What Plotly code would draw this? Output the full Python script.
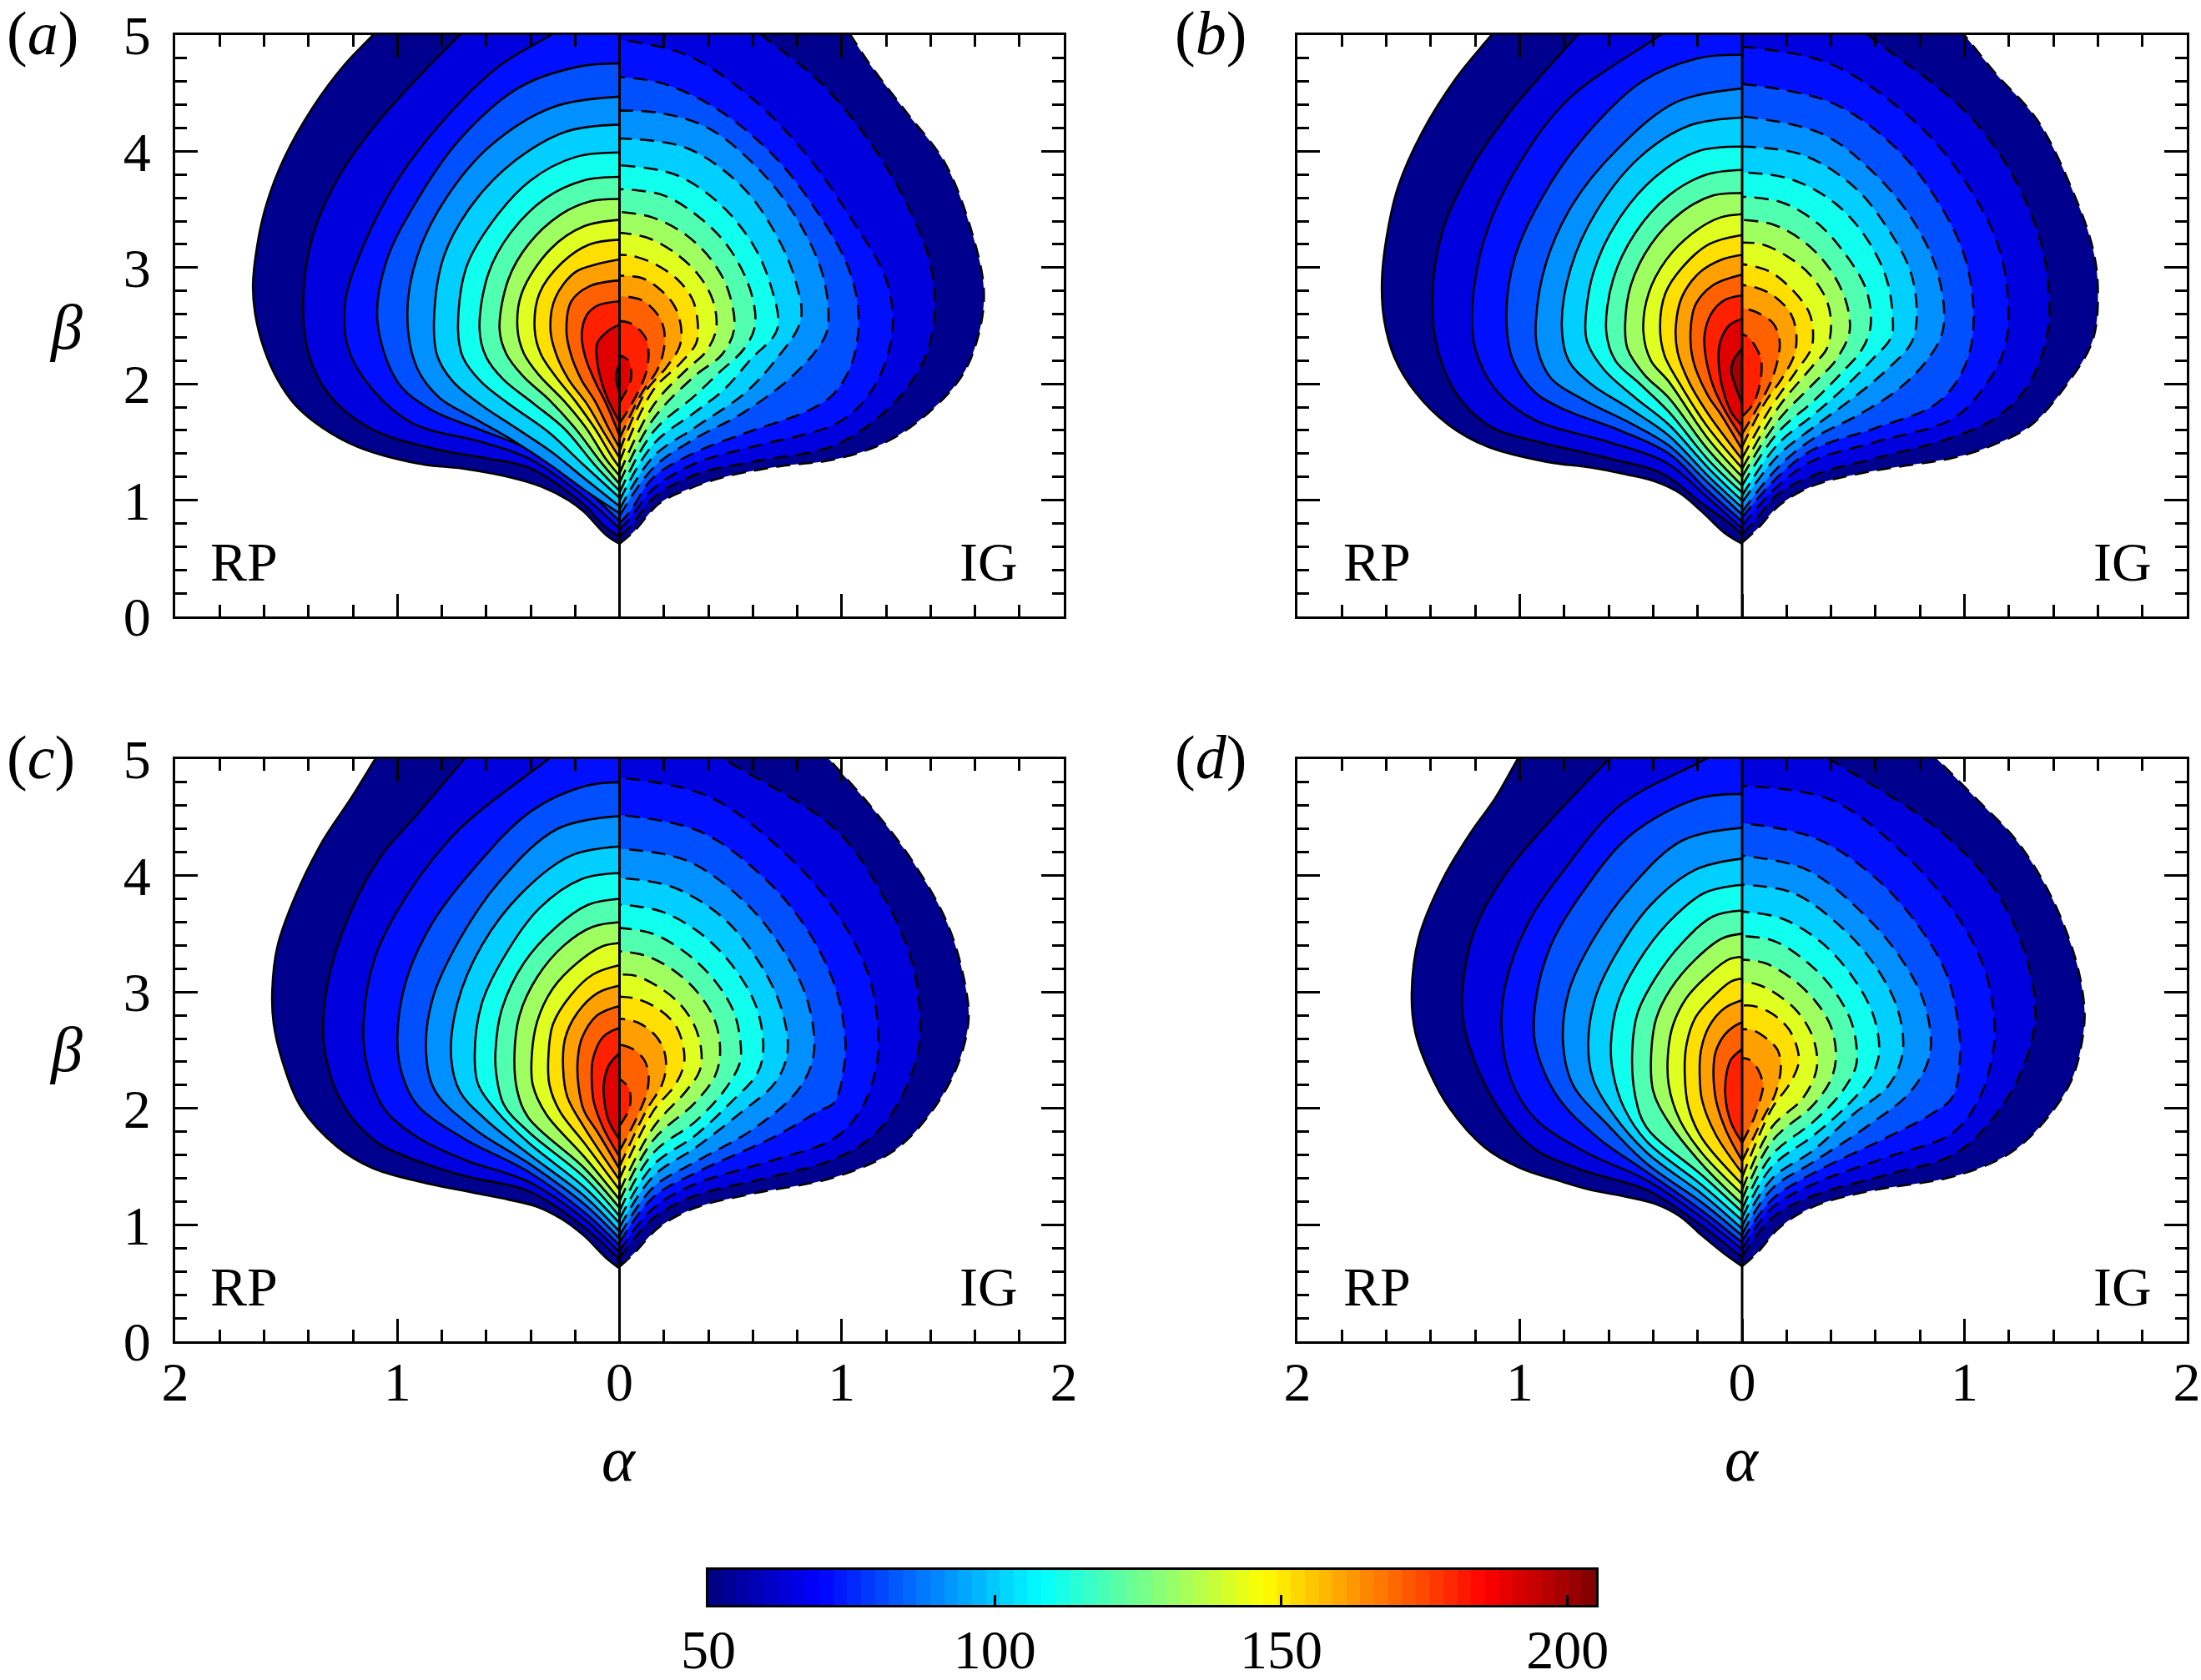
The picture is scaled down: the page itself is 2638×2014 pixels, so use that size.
#!/usr/bin/env python3
import numpy as np
import plotly.graph_objects as go

W, H = 2638, 2014

LEVELS = [50, 60, 70, 80, 90, 100, 110, 120, 130, 140, 150, 160, 170, 180, 190, 200]
BAND_COLORS = ["#00008f", "#0000df", "#0010ff", "#0050ff", "#0090ff", "#00cfff", "#10ffef", "#50ffaf",
               "#9fff60", "#dfff20", "#ffdf00", "#ff9f00", "#ff6000", "#ff2000", "#df0000", "#9f0000"]
JET_STOPS = [[0, "#00007f"], [0.125, "#0000ff"], [0.375, "#00ffff"], [0.625, "#ffff00"], [0.875, "#ff0000"], [1, "#7f0000"]]

ALPHA_TICKS = [-2, -1, 0, 1, 2]
ALPHA_LABELS = ["2", "1", "0", "1", "2"]
ALPHA_MINOR = [-1.8, -1.6, -1.4, -1.2, -0.8, -0.6, -0.4, -0.2, 0.2, 0.4, 0.6, 0.8, 1.2, 1.4, 1.6, 1.8]
BETA_TICKS = [0, 1, 2, 3, 4, 5]
BETA_MINOR = [0.2, 0.4, 0.6, 0.8, 1.2, 1.4, 1.6, 1.8, 2.2, 2.4, 2.6, 2.8, 3.2, 3.4, 3.6, 3.8, 4.2, 4.4, 4.6, 4.8]
BAR_TICKS = [50, 100, 150, 200]
BAR_MIN, BAR_MAX, BAR_STEPS = 50, 205, 64

# contours per panel, one (alpha, beta) list per entry of LEVELS, bottom of the lobe to the top
RP_A = [
 [(0,.625),(-.06,.7),(-.16,.9),(-.23,1.0),(-.35,1.115),(-.5,1.2),(-.7,1.27),(-.91,1.316),(-1.18,1.46),(-1.335,1.62),(-1.46,1.82),(-1.54,2.04),(-1.6,2.3),(-1.64,2.6),(-1.65,2.85),(-1.63,3.2),(-1.59,3.54),(-1.51,3.94),(-1.38,4.38),(-1.24,4.74),(-1.11,5)],
 [(0,.69),(-.06,.76),(-.16,.96),(-.41,1.28),(-.6,1.36),(-.83,1.44),(-1.115,1.61),(-1.305,1.9),(-1.4,2.26),(-1.424,2.74),(-1.38,3.28),(-1.27,3.76),(-1.11,4.2),(-.925,4.6),(-.72,5)],
 [(0,.755),(-.16,1.03),(-.41,1.36),(-.62,1.5),(-.93,1.66),(-1.12,1.97),(-1.22,2.3),(-1.235,2.7),(-1.15,3.2),(-1.0,3.75),(-.8,4.25),(-.55,4.72),(-.31,5)],
 [(0,.82),(-.16,1.1),(-.41,1.435),(-.62,1.6),(-.85,1.78),(-1.0,2.02),(-1.09,2.55),(-1.05,3.05),(-.92,3.55),(-.72,4.1),(-.45,4.55),(-.18,4.73),(0,4.755)],
 [(0,.887),(-.16,1.09),(-.31,1.3),(-.486,1.52),(-.66,1.71),(-.81,1.88),(-.912,2.14),(-.955,2.6),(-.91,3.1),(-.78,3.6),(-.58,4.05),(-.3,4.38),(0,4.47)],
 [(0,.947),(-.16,1.19),(-.31,1.42),(-.466,1.62),(-.624,1.82),(-.75,2.02),(-.82,2.24),(-.835,2.55),(-.79,3.1),(-.66,3.55),(-.47,3.92),(-.24,4.17),(0,4.23)],
 [(0,1.02),(-.16,1.3),(-.323,1.59),(-.5,1.83),(-.624,2.02),(-.705,2.23),(-.727,2.47),(-.69,3.0),(-.57,3.4),(-.4,3.75),(-.2,3.95),(0,3.99)],
 [(0,1.08),(-.11,1.3),(-.248,1.614),(-.386,1.83),(-.524,2.04),(-.6,2.23),(-.63,2.47),(-.59,2.95),(-.49,3.3),(-.33,3.6),(-.16,3.75),(0,3.78)],
 [(0,1.14),(-.085,1.33),(-.198,1.614),(-.31,1.85),(-.436,2.07),(-.51,2.26),(-.54,2.47),(-.5,2.9),(-.41,3.2),(-.27,3.45),(-.13,3.57),(0,3.59)],
 [(0,1.21),(-.06,1.35),(-.148,1.614),(-.248,1.85),(-.36,2.07),(-.43,2.26),(-.459,2.47),(-.44,2.78),(-.31,3.16),(-.16,3.355),(0,3.41)],
 [(0,1.28),(-.035,1.376),(-.11,1.614),(-.198,1.85),(-.29,2.07),(-.355,2.26),(-.382,2.47),(-.36,2.78),(-.26,3.04),(-.135,3.2),(0,3.24)],
 [(0,1.365),(-.073,1.59),(-.148,1.83),(-.23,2.04),(-.286,2.26),(-.311,2.47),(-.29,2.735),(-.2,2.96),(-.1,3.03),(0,3.07)],
 [(0,1.45),(-.048,1.614),(-.11,1.85),(-.173,2.04),(-.223,2.28),(-.239,2.47),(-.217,2.71),(-.135,2.84),(0,2.89)],
 [(0,1.555),(-.06,1.83),(-.11,2.02),(-.154,2.23),(-.17,2.425),(-.148,2.59),(-.098,2.675),(0,2.71)],
 [(0,1.67),(-.06,1.9),(-.098,2.16),(-.1,2.35),(-.048,2.46),(0,2.51)],
 [(0,1.92),(-.016,2.07),(0,2.17)],
]
IG_A = [
 [(0,.625),(.065,.73),(.178,.97),(.303,1.09),(.466,1.197),(.717,1.29),(.967,1.35),(1.2,1.5),(1.39,1.75),(1.545,2.08),(1.62,2.45),(1.64,2.81),(1.59,3.28),(1.465,3.9),(1.29,4.34),(1.13,4.74),(1.04,5)],
 [(0,.685),(.06,.8),(.153,1.02),(.34,1.22),(.6,1.33),(.967,1.47),(1.17,1.72),(1.3,1.98),(1.39,2.3),(1.42,2.7),(1.39,3.1),(1.28,3.6),(1.12,4.1),(.9,4.6),(.64,5)],
 [(0,.745),(.05,.85),(.153,1.1),(.34,1.316),(.6,1.46),(.967,1.65),(1.1,1.85),(1.19,2.15),(1.23,2.5),(1.2,2.9),(1.05,3.4),(.85,3.95),(.6,4.45),(.3,4.83),(0,4.96)],
 [(0,.8),(.05,.91),(.153,1.197),(.34,1.41),(.6,1.6),(.85,1.77),(.967,1.92),(1.05,2.2),(1.076,2.6),(1.03,3.0),(.9,3.45),(.7,3.95),(.45,4.35),(.2,4.58),(0,4.64)],
 [(0,.865),(.153,1.28),(.34,1.53),(.52,1.71),(.656,1.88),(.78,2.07),(.89,2.3),(.936,2.47),(.92,2.9),(.82,3.35),(.65,3.8),(.4,4.2),(.18,4.33),(0,4.35)],
 [(0,.92),(.153,1.376),(.34,1.625),(.564,1.92),(.7,2.2),(.816,2.55),(.79,2.9),(.7,3.3),(.55,3.7),(.3,4.03),(0,4.11)],
 [(0,.995),(.153,1.483),(.34,1.757),(.47,1.95),(.59,2.21),(.71,2.47),(.68,2.85),(.6,3.2),(.45,3.55),(.25,3.8),(0,3.88)],
 [(0,1.065),(.153,1.59),(.34,1.9),(.45,2.1),(.56,2.3),(.61,2.5),(.59,2.8),(.5,3.15),(.38,3.4),(.2,3.62),(0,3.675)],
 [(0,1.15),(.153,1.7),(.34,2.07),(.46,2.25),(.516,2.47),(.49,2.8),(.42,3.05),(.3,3.28),(.15,3.43),(0,3.48)],
 [(0,1.23),(.153,1.817),(.3,2.12),(.39,2.28),(.435,2.47),(.42,2.72),(.35,2.95),(.24,3.14),(.12,3.26),(0,3.3)],
 [(0,1.33),(.153,1.95),(.27,2.17),(.345,2.35),(.353,2.5),(.33,2.72),(.26,2.9),(.16,3.03),(.06,3.1),(0,3.11)],
 [(0,1.42),(.12,1.94),(.21,2.14),(.27,2.32),(.278,2.47),(.25,2.66),(.19,2.8),(.1,2.91),(0,2.93)],
 [(0,1.53),(.1,1.92),(.17,2.12),(.2,2.3),(.2,2.47),(.17,2.6),(.1,2.72),(0,2.755)],
 [(0,1.66),(.07,1.88),(.12,2.1),(.13,2.3),(.11,2.42),(.05,2.52),(0,2.54)],
 [(0,1.84),(.04,1.98),(.053,2.07),(.04,2.2),(0,2.245)],
]
RP_B = [
 [(0,.625),(-.08,.72),(-.18,.9),(-.28,1.06),(-.39,1.16),(-.517,1.22),(-.68,1.28),(-.88,1.33),(-1.144,1.46),(-1.315,1.64),(-1.47,1.93),(-1.564,2.23),(-1.61,2.55),(-1.62,2.88),(-1.6,3.25),(-1.548,3.69),(-1.44,4.16),(-1.284,4.635),(-1.128,5)],
 [(0,.7),(-.05,.79),(-.18,.97),(-.36,1.23),(-.6,1.36),(-.93,1.507),(-1.12,1.62),(-1.28,1.9),(-1.37,2.3),(-1.393,2.74),(-1.35,3.3),(-1.22,3.85),(-1.04,4.35),(-.74,5)],
 [(0,.755),(-.16,1.03),(-.34,1.32),(-.6,1.5),(-.93,1.686),(-1.1,1.93),(-1.2,2.3),(-1.212,2.7),(-1.15,3.3),(-1.0,3.9),(-.78,4.45),(-.367,5)],
 [(0,.815),(-.16,1.09),(-.33,1.4),(-.55,1.6),(-.8,1.78),(-.93,1.924),(-1.03,2.2),(-1.06,2.6),(-1.02,3.1),(-.9,3.6),(-.72,4.1),(-.45,4.6),(-.2,4.8),(0,4.83)],
 [(0,.875),(-.154,1.15),(-.33,1.47),(-.5,1.66),(-.7,1.85),(-.86,2.05),(-.92,2.3),(-.927,2.55),(-.88,3.05),(-.76,3.55),(-.57,4.0),(-.3,4.42),(0,4.54)],
 [(0,.935),(-.154,1.21),(-.33,1.555),(-.5,1.78),(-.68,2.0),(-.78,2.2),(-.811,2.5),(-.77,3.0),(-.65,3.5),(-.46,3.95),(-.24,4.22),(0,4.29)],
 [(0,.995),(-.154,1.28),(-.33,1.65),(-.48,1.88),(-.62,2.12),(-.695,2.35),(-.705,2.5),(-.67,2.95),(-.56,3.4),(-.39,3.78),(-.2,4.0),(0,4.04)],
 [(0,1.065),(-.154,1.35),(-.33,1.76),(-.46,2.0),(-.57,2.2),(-.611,2.45),(-.58,2.9),(-.48,3.3),(-.33,3.62),(-.16,3.8),(0,3.84)],
 [(0,1.125),(-.154,1.435),(-.33,1.88),(-.44,2.08),(-.515,2.3),(-.526,2.5),(-.5,2.85),(-.41,3.2),(-.27,3.48),(-.13,3.62),(0,3.64)],
 [(0,1.2),(-.154,1.53),(-.33,2.02),(-.41,2.2),(-.444,2.45),(-.42,2.78),(-.34,3.07),(-.22,3.3),(-.1,3.43),(0,3.46)],
 [(0,1.275),(-.154,1.626),(-.28,2.0),(-.35,2.25),(-.369,2.5),(-.345,2.78),(-.27,3.0),(-.15,3.2),(0,3.28)],
 [(0,1.35),(-.154,1.745),(-.24,2.02),(-.29,2.27),(-.298,2.5),(-.27,2.75),(-.19,2.96),(-.09,3.07),(0,3.11)],
 [(0,1.435),(-.1,1.75),(-.154,1.9),(-.22,2.2),(-.232,2.45),(-.21,2.68),(-.13,2.85),(0,2.94)],
 [(0,1.535),(-.08,1.78),(-.13,1.98),(-.165,2.25),(-.169,2.42),(-.14,2.6),(-.08,2.72),(0,2.76)],
 [(0,1.64),(-.05,1.76),(-.09,1.98),(-.106,2.2),(-.1,2.35),(-.06,2.5),(0,2.56)],
 [(0,1.83),(-.03,1.98),(-.048,2.1),(-.04,2.2),(0,2.305)],
]
IG_B = [
 [(0,.635),(.07,.756),(.17,.96),(.32,1.125),(.57,1.245),(.947,1.364),(1.11,1.46),(1.296,1.64),(1.45,1.97),(1.576,2.37),(1.6,2.81),(1.576,3.175),(1.48,3.69),(1.327,4.27),(1.14,4.67),(1.0,5)],
 [(0,.708),(.06,.83),(.16,1.05),(.33,1.22),(.6,1.36),(.947,1.54),(1.15,1.72),(1.29,2.0),(1.37,2.4),(1.38,2.8),(1.33,3.3),(1.2,3.85),(1.0,4.35),(.566,5)],
 [(0,.78),(.16,1.12),(.32,1.34),(.6,1.5),(.947,1.7),(1.08,1.95),(1.18,2.3),(1.197,2.7),(1.15,3.2),(1.0,3.75),(.78,4.25),(.4,4.75),(0,4.9)],
 [(0,.85),(.16,1.2),(.32,1.435),(.6,1.62),(.85,1.8),(.947,1.97),(1.02,2.25),(1.041,2.6),(1.0,3.1),(.87,3.6),(.68,4.05),(.4,4.42),(0,4.58)],
 [(0,.9),(.16,1.28),(.32,1.53),(.53,1.74),(.7,1.95),(.83,2.2),(.904,2.47),(.88,2.95),(.77,3.4),(.6,3.8),(.36,4.15),(0,4.3)],
 [(0,.98),(.16,1.38),(.32,1.626),(.5,1.88),(.65,2.12),(.76,2.35),(.785,2.55),(.76,2.95),(.65,3.35),(.5,3.7),(.27,3.97),(0,4.04)],
 [(0,1.04),(.16,1.48),(.32,1.733),(.45,1.95),(.58,2.2),(.67,2.4),(.678,2.55),(.65,2.9),(.56,3.25),(.42,3.55),(.22,3.76),(0,3.82)],
 [(0,1.125),(.16,1.58),(.32,1.85),(.44,2.08),(.54,2.3),(.578,2.5),(.56,2.8),(.47,3.1),(.34,3.38),(.18,3.56),(0,3.61)],
 [(0,1.2),(.16,1.68),(.32,2.0),(.42,2.2),(.48,2.42),(.484,2.55),(.46,2.75),(.39,3.0),(.28,3.22),(.14,3.37),(0,3.41)],
 [(0,1.27),(.16,1.79),(.32,2.16),(.38,2.3),(.4,2.5),(.38,2.72),(.3,2.95),(.2,3.1),(.09,3.2),(0,3.216)],
 [(0,1.36),(.13,1.8),(.24,2.1),(.31,2.3),(.319,2.45),(.3,2.62),(.22,2.82),(.12,2.97),(0,3.03)],
 [(0,1.46),(.1,1.83),(.18,2.05),(.235,2.25),(.244,2.42),(.22,2.6),(.14,2.76),(.06,2.83),(0,2.85)],
 [(0,1.57),(.07,1.8),(.13,2.02),(.165,2.25),(.168,2.38),(.14,2.52),(.06,2.62),(0,2.65)],
 [(0,1.72),(.05,1.83),(.08,2.0),(.086,2.2),(.06,2.32),(.03,2.4),(0,2.425)],
]
RP_C = [
 [(0,.625),(-.06,.716),(-.16,.907),(-.26,1.05),(-.373,1.157),(-.5,1.217),(-.66,1.277),(-.92,1.38),(-1.114,1.49),(-1.27,1.67),(-1.43,2.0),(-1.51,2.36),(-1.557,2.73),(-1.563,3.02),(-1.54,3.39),(-1.46,3.82),(-1.335,4.3),(-1.21,4.66),(-1.1,5)],
 [(0,.704),(-.16,.98),(-.41,1.29),(-.7,1.42),(-.911,1.55),(-1.1,1.72),(-1.25,2.05),(-1.327,2.5),(-1.325,2.95),(-1.25,3.5),(-1.08,4.15),(-.9,4.55),(-.7,5)],
 [(0,.764),(-.16,1.05),(-.41,1.37),(-.7,1.56),(-.911,1.754),(-1.06,2.0),(-1.14,2.4),(-1.152,2.75),(-1.1,3.3),(-.95,3.85),(-.72,4.4),(-.32,5)],
 [(0,.823),(-.16,1.11),(-.41,1.456),(-.7,1.74),(-.911,2.03),(-.98,2.3),(-1.0,2.6),(-.96,3.1),(-.84,3.6),(-.66,4.05),(-.4,4.55),(-.15,4.77),(0,4.8)],
 [(0,.883),(-.16,1.18),(-.41,1.53),(-.65,1.82),(-.83,2.15),(-.871,2.5),(-.84,2.95),(-.72,3.45),(-.54,3.95),(-.28,4.4),(0,4.51)],
 [(0,.943),(-.16,1.25),(-.41,1.61),(-.6,1.9),(-.72,2.15),(-.758,2.45),(-.73,2.9),(-.62,3.4),(-.44,3.85),(-.22,4.17),(0,4.25)],
 [(0,1.014),(-.16,1.325),(-.41,1.706),(-.55,1.97),(-.635,2.2),(-.652,2.45),(-.62,2.9),(-.52,3.3),(-.36,3.72),(-.17,3.97),(0,4.02)],
 [(0,1.074),(-.16,1.41),(-.41,1.8),(-.52,2.03),(-.555,2.3),(-.558,2.5),(-.53,2.85),(-.43,3.25),(-.29,3.55),(-.14,3.75),(0,3.8)],
 [(0,1.146),(-.16,1.49),(-.41,1.92),(-.46,2.15),(-.473,2.45),(-.45,2.8),(-.37,3.13),(-.25,3.4),(-.12,3.56),(0,3.6)],
 [(0,1.217),(-.16,1.587),(-.33,1.95),(-.39,2.2),(-.395,2.45),(-.37,2.75),(-.3,3.03),(-.19,3.25),(-.08,3.39),(0,3.42)],
 [(0,1.3),(-.16,1.706),(-.27,1.98),(-.315,2.2),(-.32,2.45),(-.3,2.72),(-.22,2.97),(-.12,3.15),(0,3.23)],
 [(0,1.384),(-.16,1.84),(-.235,2.1),(-.254,2.35),(-.245,2.6),(-.19,2.82),(-.1,2.99),(0,3.055)],
 [(0,1.48),(-.1,1.8),(-.16,1.98),(-.185,2.2),(-.188,2.42),(-.17,2.6),(-.1,2.8),(0,2.88)],
 [(0,1.587),(-.07,1.82),(-.115,2.05),(-.125,2.25),(-.12,2.42),(-.08,2.6),(-.04,2.66),(0,2.69)],
 [(0,1.73),(-.05,1.9),(-.07,2.1),(-.068,2.25),(-.045,2.38),(0,2.475)],
]
IG_C = [
 [(0,.64),(.07,.764),(.178,.98),(.34,1.146),(.59,1.265),(.966,1.408),(1.23,1.63),(1.386,1.925),(1.513,2.33),(1.57,2.73),(1.56,3.02),(1.48,3.57),(1.32,4.12),(1.133,4.59),(.943,5)],
 [(0,.716),(.153,1.06),(.34,1.25),(.7,1.42),(.966,1.563),(1.15,1.78),(1.27,2.1),(1.345,2.5),(1.354,2.8),(1.31,3.3),(1.18,3.85),(.97,4.4),(.47,5)],
 [(0,.776),(.153,1.145),(.34,1.35),(.7,1.56),(.966,1.742),(1.09,2.0),(1.155,2.35),(1.165,2.65),(1.12,3.15),(.97,3.7),(.74,4.2),(.4,4.68),(0,4.84)],
 [(0,.847),(.153,1.24),(.34,1.444),(.7,1.76),(.9,1.98),(.966,2.05),(1.01,2.35),(1.016,2.6),(.97,3.05),(.84,3.55),(.64,4.0),(.36,4.38),(0,4.52)],
 [(0,.907),(.153,1.325),(.34,1.54),(.6,1.82),(.8,2.15),(.873,2.45),(.85,2.9),(.74,3.35),(.56,3.78),(.3,4.13),(0,4.23)],
 [(0,.978),(.153,1.42),(.34,1.66),(.55,1.97),(.7,2.22),(.756,2.48),(.73,2.85),(.63,3.25),(.47,3.63),(.24,3.9),(0,3.98)],
 [(0,1.05),(.153,1.515),(.34,1.766),(.5,2.05),(.62,2.3),(.647,2.5),(.62,2.85),(.53,3.17),(.38,3.48),(.19,3.69),(0,3.75)],
 [(0,1.12),(.153,1.62),(.34,1.885),(.47,2.15),(.54,2.38),(.547,2.5),(.52,2.8),(.44,3.07),(.31,3.32),(.15,3.5),(0,3.55)],
 [(0,1.205),(.153,1.73),(.34,2.05),(.43,2.28),(.453,2.48),(.43,2.75),(.35,3.0),(.24,3.19),(.12,3.31),(0,3.35)],
 [(0,1.288),(.153,1.84),(.3,2.15),(.36,2.32),(.369,2.48),(.34,2.7),(.27,2.9),(.17,3.05),(.07,3.14),(0,3.15)],
 [(0,1.396),(.153,1.98),(.25,2.2),(.29,2.38),(.285,2.55),(.25,2.72),(.17,2.86),(.08,2.94),(0,2.96)],
 [(0,1.5),(.12,1.98),(.19,2.2),(.209,2.35),(.2,2.5),(.16,2.63),(.08,2.74),(0,2.77)],
 [(0,1.635),(.08,1.93),(.125,2.15),(.13,2.3),(.11,2.42),(.06,2.51),(0,2.55)],
 [(0,1.85),(.04,1.98),(.05,2.08),(.04,2.18),(0,2.255)],
]
RP_D = [
 [(0,.644),(-.08,.752),(-.18,.907),(-.28,1.074),(-.39,1.18),(-.517,1.24),(-.68,1.3),(-.82,1.377),(-1.0,1.49),(-1.16,1.67),(-1.315,2.0),(-1.41,2.33),(-1.47,2.655),(-1.486,2.98),(-1.455,3.46),(-1.346,3.97),(-1.22,4.37),(-1.11,4.665),(-1.01,5)],
 [(0,.716),(-.18,.99),(-.43,1.3),(-.72,1.47),(-.93,1.647),(-1.06,1.9),(-1.18,2.3),(-1.25,2.7),(-1.259,3.0),(-1.2,3.55),(-1.05,4.05),(-.85,4.5),(-.6,5)],
 [(0,.788),(-.18,1.06),(-.43,1.384),(-.7,1.62),(-.93,1.91),(-1.04,2.25),(-1.082,2.7),(-1.06,3.1),(-.96,3.6),(-.8,4.05),(-.55,4.6),(-.165,5)],
 [(0,.847),(-.18,1.12),(-.43,1.456),(-.65,1.75),(-.83,2.1),(-.93,2.55),(-.93,2.9),(-.86,3.4),(-.72,3.85),(-.5,4.35),(-.2,4.66),(0,4.7)],
 [(0,.907),(-.18,1.19),(-.43,1.527),(-.6,1.85),(-.76,2.2),(-.805,2.55),(-.78,3.0),(-.67,3.45),(-.5,3.9),(-.27,4.3),(0,4.41)],
 [(0,.967),(-.18,1.265),(-.43,1.623),(-.58,1.95),(-.67,2.25),(-.692,2.55),(-.66,2.95),(-.56,3.35),(-.41,3.75),(-.21,4.05),(0,4.145)],
 [(0,1.038),(-.18,1.34),(-.43,1.718),(-.53,2.0),(-.58,2.3),(-.59,2.55),(-.56,2.9),(-.47,3.25),(-.33,3.6),(-.17,3.85),(0,3.92)],
 [(0,1.11),(-.18,1.425),(-.43,1.838),(-.48,2.1),(-.494,2.5),(-.47,2.82),(-.39,3.12),(-.27,3.42),(-.13,3.65),(0,3.7)],
 [(0,1.18),(-.18,1.52),(-.33,1.88),(-.4,2.15),(-.408,2.5),(-.385,2.78),(-.32,3.03),(-.21,3.28),(-.09,3.46),(0,3.5)],
 [(0,1.265),(-.18,1.615),(-.28,1.9),(-.33,2.2),(-.332,2.5),(-.31,2.72),(-.25,2.95),(-.15,3.15),(-.06,3.28),(0,3.3)],
 [(0,1.348),(-.18,1.742),(-.24,2.0),(-.258,2.3),(-.25,2.55),(-.21,2.78),(-.13,2.96),(-.05,3.09),(0,3.115)],
 [(0,1.444),(-.12,1.78),(-.18,2.07),(-.191,2.3),(-.185,2.5),(-.15,2.7),(-.08,2.86),(0,2.93)],
 [(0,1.55),(-.07,1.8),(-.115,2.05),(-.129,2.3),(-.12,2.48),(-.08,2.63),(-.04,2.7),(0,2.74)],
 [(0,1.706),(-.05,1.88),(-.075,2.1),(-.07,2.3),(-.05,2.42),(0,2.51)],
]
IG_D = [
 [(0,.644),(.07,.764),(.17,.98),(.32,1.157),(.57,1.29),(.947,1.414),(1.2,1.61),(1.36,1.89),(1.483,2.25),(1.535,2.655),(1.539,2.87),(1.5,3.28),(1.39,3.82),(1.234,4.3),(1.05,4.665),(.877,5)],
 [(0,.728),(.134,1.06),(.32,1.25),(.65,1.43),(.947,1.6),(1.1,1.85),(1.24,2.25),(1.31,2.65),(1.318,2.9),(1.27,3.35),(1.13,3.9),(.88,4.4),(.395,5)],
 [(0,.788),(.134,1.145),(.32,1.35),(.65,1.58),(.947,1.79),(1.07,2.1),(1.13,2.5),(1.135,2.75),(1.09,3.2),(.95,3.7),(.72,4.2),(.4,4.65),(0,4.77)],
 [(0,.86),(.134,1.217),(.32,1.444),(.65,1.75),(.85,1.95),(.947,2.1),(.98,2.45),(.97,2.75),(.92,3.15),(.8,3.55),(.6,3.98),(.33,4.32),(0,4.45)],
 [(0,.92),(.134,1.31),(.32,1.54),(.58,1.87),(.76,2.15),(.845,2.47),(.82,2.9),(.71,3.3),(.54,3.68),(.29,4.05),(0,4.17)],
 [(0,.99),(.134,1.396),(.32,1.64),(.5,1.95),(.66,2.2),(.722,2.48),(.7,2.85),(.6,3.22),(.45,3.55),(.23,3.85),(0,3.92)],
 [(0,1.06),(.134,1.5),(.32,1.766),(.47,2.02),(.58,2.27),(.616,2.48),(.59,2.8),(.5,3.12),(.36,3.42),(.18,3.63),(0,3.69)],
 [(0,1.134),(.134,1.6),(.32,1.885),(.44,2.12),(.51,2.35),(.516,2.5),(.49,2.75),(.41,3.02),(.29,3.26),(.14,3.44),(0,3.48)],
 [(0,1.217),(.134,1.718),(.32,2.03),(.4,2.25),(.422,2.45),(.4,2.7),(.33,2.92),(.22,3.12),(.1,3.25),(0,3.277)],
 [(0,1.3),(.134,1.84),(.27,2.08),(.33,2.3),(.337,2.45),(.31,2.65),(.24,2.85),(.14,3.0),(.06,3.07),(0,3.08)],
 [(0,1.408),(.134,2.0),(.21,2.2),(.253,2.38),(.25,2.5),(.21,2.68),(.13,2.82),(.05,2.88),(0,2.883)],
 [(0,1.55),(.09,1.9),(.15,2.13),(.174,2.35),(.16,2.5),(.11,2.6),(.05,2.67),(0,2.68)],
 [(0,1.706),(.05,1.9),(.085,2.1),(.094,2.2),(.07,2.34),(.03,2.42),(0,2.434)],
]

FONT = "Liberation Serif"
TICK_SIZE = 66
# name, contours, pixel box x0 x1 y0 y1, axis suffix, label x, show x labels, show y labels, RP/IG anchors
PANELS = [
    ("a", RP_A, IG_A, (210, 1275, 42, 739), "", 6, False, True, -1.85, 1.8),
    ("b", RP_B, IG_B, (1555, 2621, 42, 739), "2", 1406, False, False, -1.8, 1.85),
    ("c", RP_C, IG_C, (210, 1275, 910, 1608), "3", 6, True, True, -1.85, 1.8),
    ("d", RP_D, IG_D, (1555, 2621, 910, 1608), "4", 1406, True, False, -1.8, 1.85),
]


def px(x):
    return x / W


def py(y):
    return 1 - y / H


def add_side(fig, contours, dash, suffix):
    for level, color, pts in zip(LEVELS, BAND_COLORS, contours):
        alpha = [p[0] for p in pts]
        beta = [p[1] for p in pts]
        # lobes cut by the frame carry on past the top edge and close up there, out of sight
        if beta[-1] >= 5:
            slope = (alpha[-1] - alpha[-2]) / (beta[-1] - beta[-2])
            alpha += [alpha[-1] + 0.3 * slope, 0]
            beta += [5.3, 5.3]
        fig.add_trace(go.Scatter(
            x=alpha, y=beta, mode="lines", fill="toself", fillcolor=color, name=str(level),
            line=dict(color="black", width=2.6, dash=dash, shape="spline", smoothing=1),
            hoverinfo="skip", showlegend=False, xaxis="x" + suffix, yaxis="y" + suffix,
        ))


fig = go.Figure()
annotations = []
axis_style = dict(showline=True, linewidth=3, linecolor="black", mirror="allticks", showgrid=False, zeroline=False,
                  automargin=False, ticks="inside", ticklen=27, tickwidth=3, tickcolor="black",
                  tickfont=dict(family=FONT, size=TICK_SIZE, color="black"))

layout = {}
for name, rp, ig, box, suffix, label_x, show_x, show_y, rp_x, ig_x in PANELS:
    add_side(fig, rp, "solid", suffix)
    add_side(fig, ig, "17px,10px", suffix)
    x0, x1, y0, y1 = box
    layout["xaxis" + suffix] = dict(
        axis_style, domain=[px(x0), px(x1)], range=[-2, 2], anchor="y" + suffix,
        tickmode="array", tickvals=ALPHA_TICKS, ticktext=ALPHA_LABELS, showticklabels=show_x, ticklabelstandoff=-11,
        minor=dict(tickmode="array", tickvals=ALPHA_MINOR, ticks="inside", ticklen=14, tickwidth=3, tickcolor="black"),
    )
    layout["yaxis" + suffix] = dict(
        axis_style, domain=[py(y1), py(y0)], range=[0, 5], anchor="x" + suffix,
        tickmode="array", tickvals=BETA_TICKS, showticklabels=show_y, ticklabelstandoff=13,
        minor=dict(tickmode="array", tickvals=BETA_MINOR, ticks="inside", ticklen=14, tickwidth=3, tickcolor="black"),
    )
    fig.add_shape(type="line", x0=0, x1=0, y0=0, y1=5, xref="x" + suffix, yref="y" + suffix,
                  line=dict(color="black", width=3))
    annotations.append(dict(x=rp_x, y=0.47, xref="x" + suffix, yref="y" + suffix, text="RP", showarrow=False,
                            xanchor="left", yanchor="middle", font=dict(family=FONT, size=TICK_SIZE, color="black")))
    annotations.append(dict(x=ig_x, y=0.47, xref="x" + suffix, yref="y" + suffix, text="IG", showarrow=False,
                            xanchor="right", yanchor="middle", font=dict(family=FONT, size=TICK_SIZE, color="black")))
    annotations.append(dict(x=px(label_x), y=py(y0 - 2), xref="paper", yref="paper", text=f"(<i>{name}</i>)", showarrow=False,
                            xanchor="left", yanchor="middle", font=dict(family=FONT, size=74, color="black")))

for x, y, text in [(79, 392, "β"), (79, 1258, "β"), (742, 1749, "α"), (2088, 1749, "α")]:
    annotations.append(dict(x=px(x), y=py(y), xref="paper", yref="paper", text=f"<i>{text}</i>", showarrow=False,
                            xanchor="center", yanchor="middle", font=dict(family=FONT, size=76, color="black")))

# colour bar, jet with 64 flat steps
bar_edges = np.linspace(BAR_MIN, BAR_MAX, BAR_STEPS + 1)
bar_mid = (bar_edges[:-1] + bar_edges[1:]) / 2
fig.add_trace(go.Heatmap(x=bar_mid, y=[0, 1], z=[bar_mid, bar_mid], zmin=BAR_MIN, zmax=BAR_MAX, colorscale=JET_STOPS,
                         showscale=False, hoverinfo="skip", xaxis="x5", yaxis="y5"))
layout["xaxis5"] = dict(axis_style, domain=[px(849), px(1913)], range=[BAR_MIN, BAR_MAX], anchor="y5",
                        tickmode="array", tickvals=BAR_TICKS, ticklen=12, mirror=True, tickwidth=2.5, ticklabelstandoff=-6)
layout["yaxis5"] = dict(showline=True, linewidth=3, linecolor="black", mirror=True, showgrid=False, zeroline=False,
                        automargin=False, range=[-0.5, 1.5], domain=[py(1924), py(1882)], anchor="x5",
                        showticklabels=False, ticks="")

fig.update_layout(width=W, height=H, margin=dict(l=0, r=0, t=0, b=0), paper_bgcolor="white", plot_bgcolor="white",
                  annotations=annotations, showlegend=False, **layout)
# the page's default body margin would push the fixed-size figure off to the right
fig.write_html("out.html", config={"displayModeBar": False}, post_script="document.body.style.margin='0';")
